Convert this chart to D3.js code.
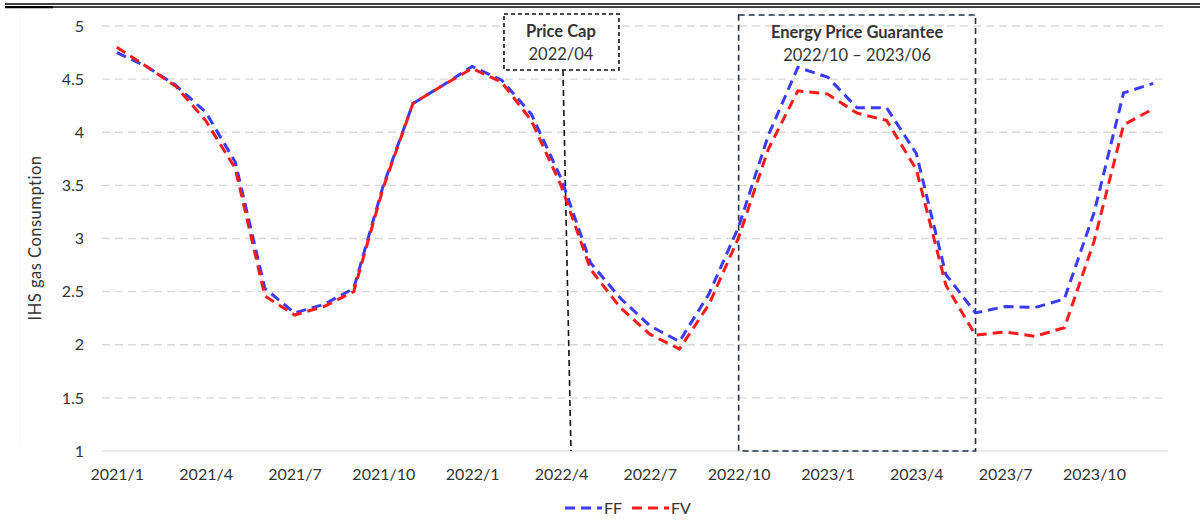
<!DOCTYPE html>
<html>
<head>
  <meta charset="utf-8">
  <script src="https://cdn.jsdelivr.net/npm/d3@7"></script>
  <style>
    body { margin: 0; background: #fff; }
    text { font-family: Lato, "Noto Sans", sans-serif; fill: #333; }
  </style>
</head>
<body>
<script>
  var width = 1203;
  var height = 521;

  // months on the category axis
  var months = ["2021/1","2021/2","2021/3","2021/4","2021/5","2021/6","2021/7","2021/8","2021/9","2021/10","2021/11","2021/12",
                "2022/1","2022/2","2022/3","2022/4","2022/5","2022/6","2022/7","2022/8","2022/9","2022/10","2022/11","2022/12",
                "2023/1","2023/2","2023/3","2023/4","2023/5","2023/6","2023/7","2023/8","2023/9","2023/10","2023/11","2023/12"];
  var tickMonths = ["2021/1","2021/4","2021/7","2021/10","2022/1","2022/4","2022/7","2022/10","2023/1","2023/4","2023/7","2023/10"];
  var yTicks = [1, 1.5, 2, 2.5, 3, 3.5, 4, 4.5, 5];

  var ff = [4.75,4.62,4.44,4.19,3.72,2.53,2.30,2.38,2.53,3.50,4.27,4.44,
            4.62,4.49,4.17,3.57,2.77,2.44,2.18,2.03,2.48,3.11,3.97,4.61,
            4.52,4.23,4.23,3.80,2.66,2.30,2.36,2.35,2.43,3.24,4.37,4.46];
  var fv = [4.80,4.62,4.43,4.11,3.66,2.46,2.28,2.36,2.50,3.48,4.27,4.44,
            4.60,4.47,4.11,3.50,2.71,2.35,2.10,1.96,2.38,3.01,3.84,4.39,
            4.36,4.18,4.11,3.65,2.56,2.09,2.12,2.08,2.16,2.97,4.07,4.22];

  var series = [
    { name: "FF", values: ff, color: "#3b3bff" },
    { name: "FV", values: fv, color: "#ff1a1a" }
  ];

  var svg = d3.select("body").append("svg")
    .attr("width", width)
    .attr("height", height);

  // double rule at the top
  svg.append("line").attr("x1", 5).attr("x2", 1200).attr("y1", 4).attr("y2", 4)
    .attr("stroke", "#000").attr("stroke-width", 1.6);
  svg.append("line").attr("x1", 5).attr("x2", 1200).attr("y1", 7).attr("y2", 7)
    .attr("stroke", "#000").attr("stroke-width", 1.3);
  svg.append("line").attr("x1", 5).attr("x2", 53).attr("y1", 7.2).attr("y2", 7.2)
    .attr("stroke", "#000").attr("stroke-width", 2.2);
  // faint frame edge on the left
  svg.append("line").attr("x1", 20).attr("x2", 20).attr("y1", 10).attr("y2", 442)
    .attr("stroke", "#f4f4f4").attr("stroke-width", 1);

  var x = d3.scalePoint().domain(months).range([102, 1168]).padding(0.5);
  var y = d3.scaleLinear().domain([1, 5]).range([451, 26]);

  // grid
  svg.selectAll(".grid").data(yTicks.filter(function(d) { return d > 1; }))
    .enter().append("line")
    .attr("x1", 102).attr("x2", 1168)
    .attr("y1", function(d) { return y(d); })
    .attr("y2", function(d) { return y(d); })
    .attr("stroke", "#d9d9d9").attr("stroke-width", 1.3)
    .attr("stroke-dasharray", "8,5");
  svg.append("line").attr("x1", 102).attr("x2", 1168).attr("y1", y(1)).attr("y2", y(1))
    .attr("stroke", "#d9d9d9").attr("stroke-width", 1);

  // axes
  var yAxis = svg.append("g").attr("transform", "translate(88,0)")
    .call(d3.axisLeft(y).tickValues(yTicks).tickSize(0).tickPadding(4)
      .tickFormat(function(d) { return String(d); }));
  yAxis.select(".domain").remove();
  yAxis.selectAll("text").style("font-size", "16px").attr("fill", "#333");

  var xAxis = svg.append("g").attr("transform", "translate(0," + y(1) + ")")
    .call(d3.axisBottom(x).tickValues(tickMonths).tickSize(0).tickPadding(18));
  xAxis.select(".domain").remove();
  xAxis.selectAll("text").style("font-size", "16px").attr("fill", "#333");

  svg.append("text")
    .attr("transform", "translate(41," + 238 + ") rotate(-90)")
    .attr("text-anchor", "middle")
    .style("font-size", "16.5px")
    .style("letter-spacing", "0.5px")
    .text("IHS gas Consumption");

  // Energy Price Guarantee box
  var epgL = x("2022/10"), epgR = x("2023/6");
  svg.append("rect")
    .attr("x", epgL).attr("y", 15)
    .attr("width", epgR - epgL).attr("height", y(1) - 15)
    .attr("fill", "none").attr("stroke", "#1f3050").attr("stroke-width", 1.6)
    .attr("stroke-dasharray", "6,4");
  svg.append("text").attr("x", (epgL + epgR) / 2).attr("y", 38)
    .attr("text-anchor", "middle").style("font-size", "16.5px").style("font-weight", "bold")
    .attr("fill", "#111").text("Energy Price Guarantee");
  svg.append("text").attr("x", (epgL + epgR) / 2).attr("y", 61)
    .attr("text-anchor", "middle").style("font-size", "16.5px")
    .attr("fill", "#222").text("2022/10 \u2013 2023/06");

  // Price Cap box
  var pc = x("2022/4");
  svg.append("rect")
    .attr("x", pc - 57).attr("y", 14)
    .attr("width", 115).attr("height", 56)
    .attr("fill", "#fff").attr("stroke", "#111").attr("stroke-width", 1.6)
    .attr("stroke-dasharray", "4,3");
  svg.append("line")
    .attr("x1", pc + 2).attr("y1", 70).attr("x2", pc + 10).attr("y2", y(1))
    .attr("stroke", "#111").attr("stroke-width", 1.6).attr("stroke-dasharray", "6,4");
  svg.append("text").attr("x", pc).attr("y", 37)
    .attr("text-anchor", "middle").style("font-size", "16.5px").style("font-weight", "bold")
    .attr("fill", "#111").text("Price Cap");
  svg.append("text").attr("x", pc).attr("y", 60)
    .attr("text-anchor", "middle").style("font-size", "16.5px")
    .attr("fill", "#222").text("2022/04");

  // lines
  var line = d3.line()
    .x(function(d, i) { return x(months[i]); })
    .y(function(d) { return y(d); });

  svg.selectAll(".series").data(series).enter().append("path")
    .attr("d", function(d) { return line(d.values); })
    .attr("fill", "none")
    .attr("stroke", function(d) { return d.color; })
    .attr("stroke-width", 3)
    .attr("stroke-dasharray", "10,6");

  // legend
  var leg = svg.selectAll(".leg").data(series).enter().append("g")
    .attr("transform", function(d, i) { return "translate(" + (565 + i * 67) + ",508)"; });
  leg.append("line").attr("x1", 0).attr("x2", 37)
    .attr("stroke", function(d) { return d.color; })
    .attr("stroke-width", 3).attr("stroke-dasharray", "10,6");
  leg.append("text").attr("x", 39).attr("y", 5.5)
    .style("font-size", "16px").text(function(d) { return d.name; });
</script>
</body>
</html>
